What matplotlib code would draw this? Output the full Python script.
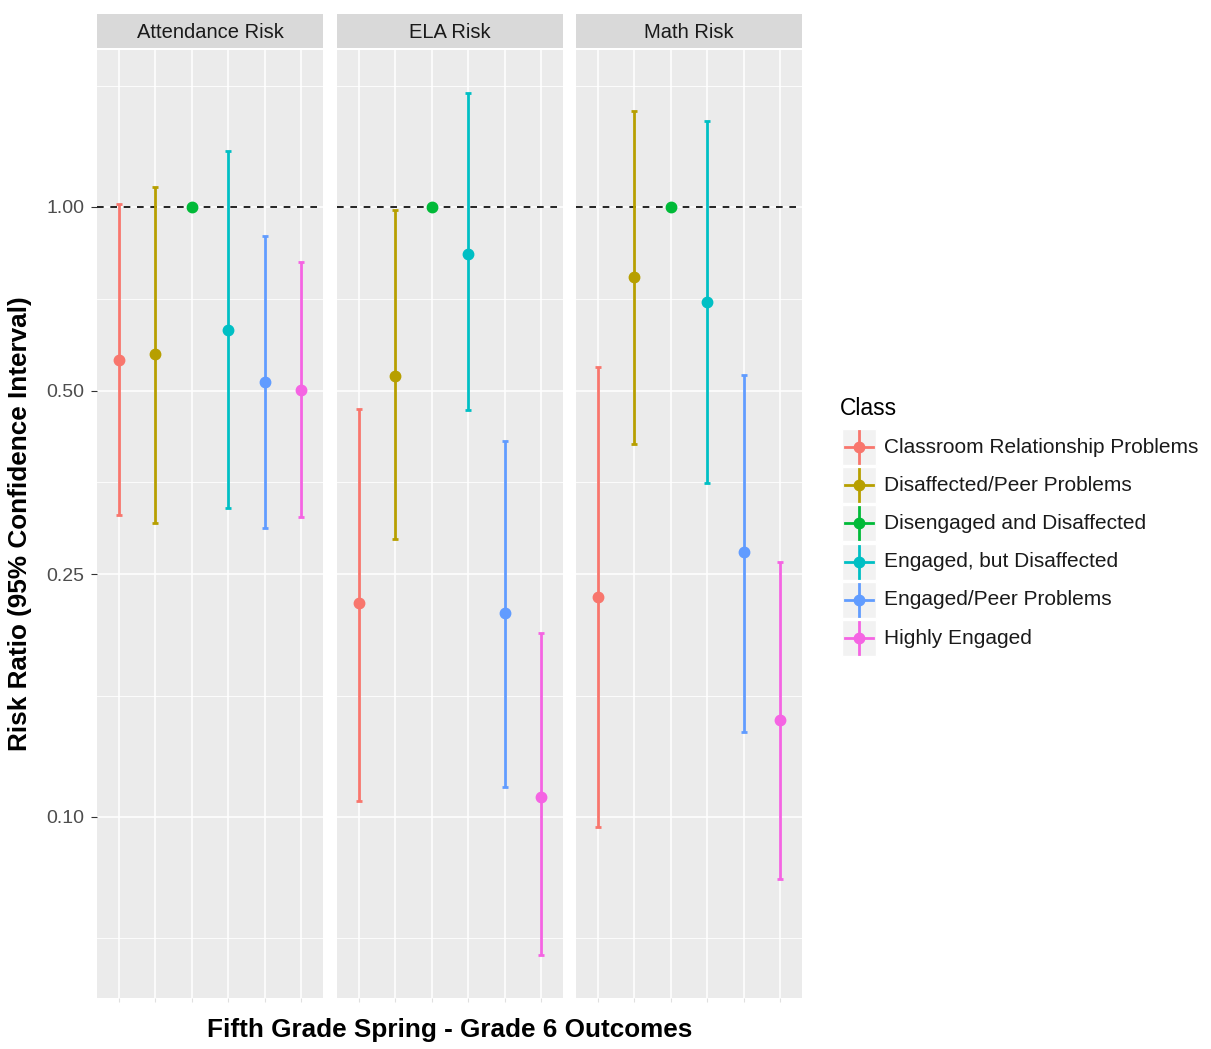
import matplotlib.pyplot as plt
from matplotlib.patches import Rectangle
import numpy as np

plt.rcParams['font.family'] = ['Liberation Sans', 'DejaVu Sans']

# data
facets = ["Attendance Risk", "ELA Risk", "Math Risk"]
classes = ["Classroom Relationship Problems", "Disaffected/Peer Problems",
           "Disengaged and Disaffected", "Engaged, but Disaffected",
           "Engaged/Peer Problems", "Highly Engaged"]
colors = ['#F8766D', '#B79F00', '#00BA38', '#00BFC4', '#619CFF', '#F564E3']

rr_att = [0.562, 0.573, 1.00, 0.629, 0.517, 0.502]
lo_att = [0.313, 0.303, 1.00, 0.321, 0.298, 0.310]
hi_att = [1.010, 1.078, 1.00, 1.235, 0.896, 0.813]

rr_ela = [0.224, 0.529, 1.00, 0.838, 0.216, 0.108]
lo_ela = [0.106, 0.285, 1.00, 0.464, 0.112, 0.0594]
hi_ela = [0.467, 0.989, 1.00, 1.537, 0.414, 0.200]

rr_math = [0.229, 0.768, 1.00, 0.699, 0.272, 0.144]
lo_math = [0.0963, 0.409, 1.00, 0.353, 0.138, 0.0792]
hi_math = [0.547, 1.436, 1.00, 1.383, 0.531, 0.262]

y_ticks = [0.10, 0.25, 0.50, 1.00]
y_tick_labels = ["0.10", "0.25", "0.50", "1.00"]
y_minor = [0.0632, 0.158, 0.354, 0.707, 1.58]

rr_all = [rr_att, rr_ela, rr_math]
lo_all = [lo_att, lo_ela, lo_math]
hi_all = [hi_att, hi_ela, hi_math]

W, H = 1211, 1049
fig = plt.figure(figsize=(W / 100, H / 100), dpi=100)


def px(x0, y0, x1, y1):
    return [x0 / W, 1 - y1 / H, (x1 - x0) / W, (y1 - y0) / H]


# y range like ggplot: 5% expansion on log scale
lmin = np.log10(min(min(l) for l in lo_all))
lmax = np.log10(max(max(h) for h in hi_all))
pad = 0.05 * (lmax - lmin)
ylim = (10 ** (lmin - pad), 10 ** (lmax + pad))

panel_x = [(97, 323), (337, 563), (576, 802)]
xs = np.arange(1, len(classes) + 1)

for k, name in enumerate(facets):
    x0, x1 = panel_x[k]
    ax = fig.add_axes(px(x0, 50, x1, 998))
    ax.set_facecolor('#EBEBEB')
    ax.set_yscale('log')
    ax.set_ylim(ylim)
    ax.set_xlim(0.4, len(classes) + 0.6)
    for sp in ax.spines.values():
        sp.set_visible(False)

    # grid
    for v in y_minor:
        ax.axhline(v, color='white', lw=0.6, zorder=0)
    for v in y_ticks:
        ax.axhline(v, color='white', lw=1.1, zorder=0)
    for x in xs:
        ax.axvline(x, color='white', lw=1.1, zorder=0)

    ax.axhline(1.0, color='black', lw=1.2, ls=(0, (4, 4)), zorder=1)

    for i in range(len(classes)):
        r, lo, hi = rr_all[k][i], lo_all[k][i], hi_all[k][i]
        ax.errorbar([xs[i]], [r], yerr=[[r - lo], [hi - r]], fmt='o',
                    color=colors[i], ms=7.5, elinewidth=2, capsize=2.5,
                    capthick=2, zorder=3)

    ax.set_xticks(xs)
    ax.set_xticklabels([])
    ax.tick_params(axis='x', length=3, color='#E0E0E0')
    ax.yaxis.set_minor_locator(plt.NullLocator())
    if k == 0:
        ax.set_yticks(y_ticks)
        ax.set_yticklabels(y_tick_labels)
        ax.tick_params(axis='y', length=4.5, color='#333333', labelcolor='#4D4D4D',
                       labelsize=14, pad=4.5)
    else:
        ax.set_yticks([])

    # strip
    sax = fig.add_axes(px(x0, 14, x1, 48))
    sax.set_facecolor('#D9D9D9')
    sax.set_xticks([])
    sax.set_yticks([])
    for sp in sax.spines.values():
        sp.set_visible(False)
    sax.text(0.5, 0.47, name, ha='center', va='center', fontsize=14.5,
             color='#1A1A1A', transform=sax.transAxes)

fig.text(449.5 / W, 1 - 1030 / H, "Fifth Grade Spring - Grade 6 Outcomes",
         ha='center', va='center', fontsize=18.8, fontweight='bold')
fig.text(20 / W, 1 - 524 / H, "Risk Ratio (95% Confidence Interval)",
         ha='center', va='center', rotation=90, fontsize=18.8, fontweight='bold')

# legend
lax = fig.add_axes(px(830, 390, 1211, 665))
lax.set_xlim(830, 1211)
lax.set_ylim(665, 390)
lax.axis('off')
lax.text(840, 408, "Class", ha='left', va='center', fontsize=16.5)
for i, c in enumerate(classes):
    yc = 447 + i * 38.2
    lax.add_patch(Rectangle((842, yc - 18), 34, 36, facecolor='#F2F2F2',
                            edgecolor='white', lw=1))
    lax.plot([845, 873], [yc, yc], color=colors[i], lw=2)
    lax.plot([859, 859], [yc - 16, yc + 16], color=colors[i], lw=2)
    lax.plot([859], [yc], 'o', color=colors[i], ms=7.5)
    lax.text(884, yc, c, ha='left', va='center', fontsize=15, color='#1A1A1A')

fig.savefig('out.png', dpi=100)
